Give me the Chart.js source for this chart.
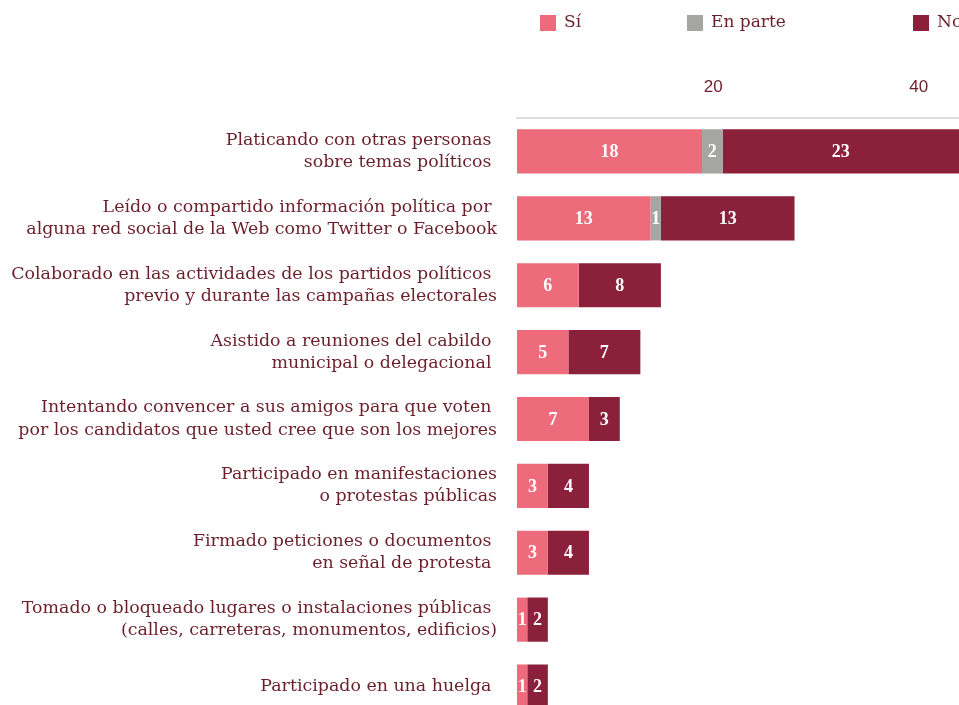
<!DOCTYPE html>
<html>
<head>
<meta charset="utf-8">
<script src="https://cdn.jsdelivr.net/npm/chart.js@4"></script>
<style>
  html, body { margin: 0; padding: 0; overflow: hidden; background: #fff; }
  #wrap { width: 959px; height: 720px; }
</style>
</head>
<body>
<div id="wrap"><canvas id="chart" width="959" height="720"></canvas></div>
<script>
// categories (multi-line labels)
const categories = [
  ["Platicando con otras personas ", "sobre temas políticos "],
  ["Leído o compartido información política por ", "alguna red social de la Web como Twitter o Facebook"],
  ["Colaborado en las actividades de los partidos políticos ", "previo y durante las campañas electorales"],
  ["Asistido a reuniones del cabildo ", "municipal o delegacional "],
  ["Intentando convencer a sus amigos para que voten ", "por los candidatos que usted cree que son los mejores"],
  ["Participado en manifestaciones", "o protestas públicas"],
  ["Firmado peticiones o documentos ", "en señal de protesta "],
  ["Tomado o bloqueado lugares o instalaciones públicas ", "(calles, carreteras, monumentos, edificios)"],
  ["Participado en una huelga "]
];

const siValues      = [18, 13, 6, 5, 7, 3, 3, 1, 1];
const enParteValues = [2, 1, 0, 0, 0, 0, 0, 0, 0];
const noValues      = [23, 13, 8, 7, 3, 4, 4, 2, 2];

const xTicks = [20, 40];

const textColor = "#6b1f2b";
const colors = { "Sí": "#ee6b7c", "En parte": "#a5a5a3", "No": "#8b203a" };

// legend is drawn by hand at the top (items not evenly spaced in the original)
const legendX = [540, 687, 913];
const topLegend = {
  id: "topLegend",
  afterDraw(chart) {
    const ctx = chart.ctx;
    ctx.save();
    ctx.font = '17px "DejaVu Serif"';
    ctx.textBaseline = "middle";
    chart.data.datasets.forEach((ds, i) => {
      const x = legendX[i];
      ctx.fillStyle = ds.backgroundColor;
      ctx.fillRect(x, 15, 16, 16);
      ctx.fillStyle = textColor;
      ctx.fillText(ds.label, x + 24, 23);
    });
    ctx.restore();
  }
};

// white numbers inside every segment
const barLabels = {
  id: "barLabels",
  afterDatasetsDraw(chart) {
    const ctx = chart.ctx;
    ctx.save();
    ctx.font = 'bold 18px "Liberation Serif"';
    ctx.fillStyle = "#fff";
    ctx.textAlign = "center";
    ctx.textBaseline = "middle";
    chart.data.datasets.forEach((ds, i) => {
      chart.getDatasetMeta(i).data.forEach((bar, j) => {
        const v = ds.data[j];
        if (!v) return;
        const p = bar.getCenterPoint();
        ctx.fillText(v, p.x, p.y + 1);
      });
    });
    ctx.restore();
  }
};

const datasets = [
  { label: "Sí", data: siValues },
  { label: "En parte", data: enParteValues },
  { label: "No", data: noValues }
].map(d => ({
  ...d,
  backgroundColor: colors[d.label],
  borderWidth: 0,
  barPercentage: 0.66,
  categoryPercentage: 1
}));

new Chart(document.getElementById("chart"), {
  type: "bar",
  data: { labels: categories, datasets: datasets },
  plugins: [topLegend, barLabels],
  options: {
    indexAxis: "y",
    responsive: false,
    animation: false,
    layout: { padding: 0 },
    plugins: {
      legend: { display: false },
      tooltip: { enabled: false }
    },
    scales: {
      x: {
        position: "top",
        stacked: true,
        min: 0,
        max: 43,
        afterBuildTicks: s => { s.ticks = xTicks.map(v => ({ value: v })); },
        afterFit: s => { s.height = 118; s.paddingLeft = 0; s.paddingRight = 0; },
        grid: { drawOnChartArea: false, drawTicks: false },
        border: { display: true, color: "#dedede", width: 2 },
        ticks: {
          align: "end",
          padding: 20,
          color: textColor,
          font: { family: "Liberation Sans", size: 17 }
        }
      },
      y: {
        stacked: true,
        afterFit: s => { s.width = 517; s.paddingTop = 0; s.paddingBottom = 0; },
        grid: { display: false, drawTicks: false },
        border: { display: false },
        ticks: {
          padding: 20,
          color: textColor,
          font: { family: "DejaVu Serif", size: 17.4, lineHeight: 1.27 }
        }
      }
    }
  }
});
</script>
</body>
</html>
